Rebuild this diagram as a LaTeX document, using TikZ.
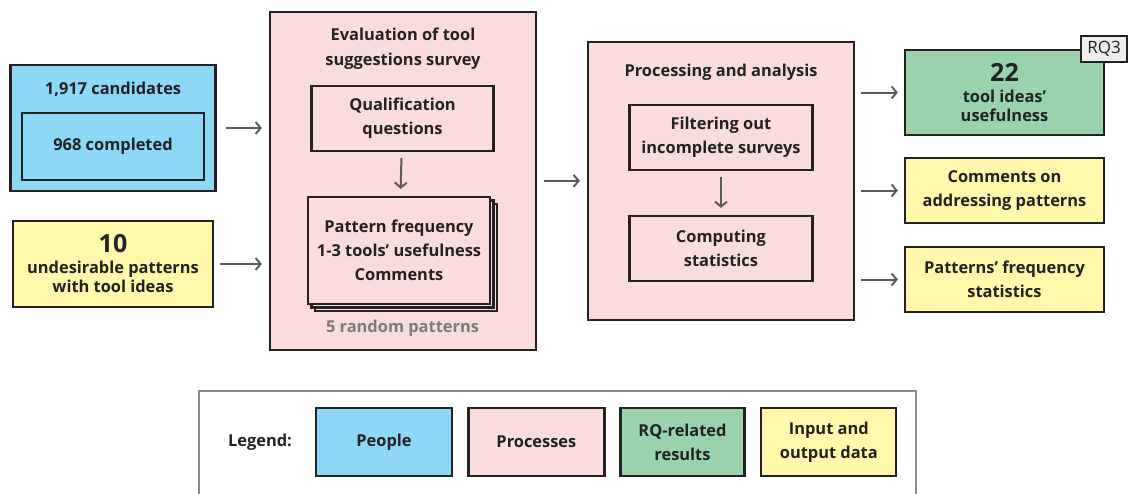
\documentclass[tikz,border=0pt]{standalone}
\usepackage{fontspec}
\setmainfont{Open Sans}
\usetikzlibrary{arrows.meta}
\definecolor{peoplec}{HTML}{8ED8F6}
\definecolor{procc}{HTML}{FBDCDC}
\definecolor{rqc}{HTML}{99D2AB}
\definecolor{datac}{HTML}{FFF7A9}
\definecolor{tagc}{HTML}{EEEEEE}
\definecolor{linec}{HTML}{222222}
\definecolor{arrc}{HTML}{5A5A5A}
\definecolor{framec}{HTML}{8A8A8A}
\newcommand\txtfont{\fontsize{16.4}{24}\selectfont\bfseries}
\newcommand\numfont{\fontsize{25}{26}\selectfont\bfseries}

\begin{document}
\begin{tikzpicture}[x=1pt,y=-1pt,
        box/.style={draw=linec,line width=2.2pt,inner sep=0pt,align=center,font=\txtfont,text=linec},
        txt/.style={inner sep=0pt,align=center,font=\txtfont,text=linec},
        arr/.style={draw=arrc,line width=2pt,-{Straight Barb[length=5pt,width=12pt]},shorten <=7pt,shorten >=7pt}]
        \path[use as bounding box,fill=white] (0,0) rectangle (1133,493);

        % people and input
        \node[box,fill=peoplec,minimum width=205,minimum height=126] (people) at (113,128) {};
        \node[txt] (cand) at (113,89) {1,917 candidates};
        \node[box,fill=peoplec,minimum width=182,minimum height=67] (done) at (113,146.5) {968 completed};
        \node[box,fill=datac,minimum width=200,minimum height=86,font=\fontsize{16.4}{19}\selectfont\bfseries] (patterns) at (113,264) {{\numfont 10}\\[2pt]undesirable patterns\\with tool ideas};

        % survey
        \node[box,fill=procc,minimum width=266,minimum height=338] (survey) at (403,180.85) {};
        \node[txt,font=\fontsize{16.4}{25}\selectfont\bfseries] (surveytitle) at (403,48.5) {Evaluation of tool\\suggestions survey};
        \node[box,fill=procc,minimum width=182,minimum height=65] (qual) at (402.5,118.5) {Qualification\\questions};
        \node[box,fill=procc,minimum width=182,minimum height=107] (stackc) at (406,257.5) {};
        \node[box,fill=procc,minimum width=182,minimum height=107] (stackb) at (402.5,254) {};
        \node[box,fill=procc,minimum width=182,minimum height=107] (stack) at (399,250.5) {Pattern frequency\\1-3 tools’ usefulness\\Comments};
        \node[txt,text=arrc!80] (random) at (402.5,328) {5 random patterns};

        % processing
        \node[box,fill=procc,minimum width=266,minimum height=278] (proc) at (721,180.85) {};
        \node[txt] (proctitle) at (721,72) {Processing and analysis};
        \node[box,fill=procc,minimum width=183,minimum height=65] (filter) at (721,137.5) {Filtering out\\incomplete surveys};
        \node[box,fill=procc,minimum width=183,minimum height=65] (stats) at (721,248.5) {Computing\\statistics};

        % results
        \node[box,fill=rqc,minimum width=199,minimum height=85,font=\fontsize{16.4}{19}\selectfont\bfseries] (useful) at (1004.5,92.5) {{\numfont 22}\\[2pt]tool ideas’\\usefulness};
        \node[box,fill=tagc,minimum width=46,minimum height=26,font=\fontsize{17}{18}\selectfont] (rq) at (1104,49) {RQ3};
        \node[box,fill=datac,minimum width=199,minimum height=65] (comments) at (1004.5,190.5) {Comments on\\addressing patterns};
        \node[box,fill=datac,minimum width=199,minimum height=65] (freq) at (1004.5,279.5) {Patterns’ frequency\\statistics};

        \draw[arr,shorten <=9pt] (people.east) -- (people.east -| survey.west);
        \draw[arr,shorten <=6pt] (patterns.east) -- (patterns.east -| survey.west);
        \draw[arr,shorten <=6pt] (qual) -- (stack);
        \draw[arr,shorten <=6pt] (filter) -- (stats);
        \draw[arr] (survey.east) -- (proc.west);
        \foreach \res in {useful,comments,freq}
            \draw[arr,shorten <=6pt,shorten >=6pt] (\res.west -| proc.east) -- (\res.west);

        % legend
        \draw[framec,line width=2pt] (198.5,500) |- (916,391) -- (916,500);
        \node[txt] (legend) at (260,442) {Legend:};
        \node[box,fill=peoplec,minimum width=136,minimum height=68] (lpeople) at (384,442) {People};
        \node[box,fill=procc,minimum width=136,minimum height=68] (lproc) at (536.4,442) {Processes};
        \node[box,fill=rqc,minimum width=124,minimum height=68] (lrq) at (682.5,442) {RQ-related\\results};
        \node[box,fill=datac,minimum width=135,minimum height=68] (ldata) at (828.8,442) {Input and\\output data};
    \end{tikzpicture}
\end{document}
